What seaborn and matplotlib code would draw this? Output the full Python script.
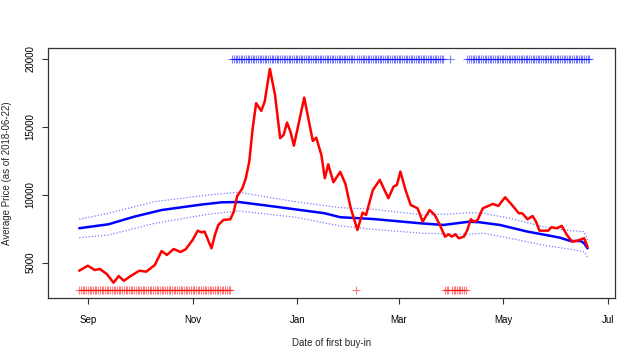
import matplotlib
matplotlib.use("Agg")
import matplotlib.pyplot as plt
import seaborn as sns
import pandas as pd

# ------------------------------------------------------------------
# data
# ------------------------------------------------------------------

# smoothed average price per first buy-in date (red line)
price_dates = [
    "2017-08-27", "2017-09-01", "2017-09-05", "2017-09-08", "2017-09-12", "2017-09-16",
    "2017-09-19", "2017-09-22", "2017-09-26", "2017-10-01", "2017-10-05", "2017-10-10",
    "2017-10-14", "2017-10-17", "2017-10-21", "2017-10-25", "2017-10-28", "2017-11-01",
    "2017-11-04", "2017-11-06", "2017-11-08", "2017-11-12", "2017-11-14", "2017-11-16",
    "2017-11-19", "2017-11-23", "2017-11-25", "2017-11-27", "2017-11-30", "2017-12-02",
    "2017-12-04", "2017-12-06", "2017-12-08", "2017-12-11", "2017-12-13", "2017-12-16",
    "2017-12-19", "2017-12-22", "2017-12-24", "2017-12-26", "2017-12-28", "2017-12-30",
    "2018-01-02", "2018-01-05", "2018-01-07", "2018-01-10", "2018-01-12", "2018-01-15",
    "2018-01-17", "2018-01-19", "2018-01-22", "2018-01-26", "2018-01-29", "2018-02-01",
    "2018-02-05", "2018-02-08", "2018-02-10", "2018-02-14", "2018-02-18", "2018-02-23",
    "2018-02-26", "2018-02-28", "2018-03-02", "2018-03-05", "2018-03-08", "2018-03-12",
    "2018-03-15", "2018-03-19", "2018-03-22", "2018-03-25", "2018-03-28", "2018-03-30",
    "2018-04-01", "2018-04-03", "2018-04-05", "2018-04-08", "2018-04-10", "2018-04-12",
    "2018-04-14", "2018-04-16", "2018-04-19", "2018-04-25", "2018-04-28", "2018-05-02",
    "2018-05-06", "2018-05-10", "2018-05-12", "2018-05-15", "2018-05-18", "2018-05-20",
    "2018-05-22", "2018-05-27", "2018-05-29", "2018-06-01", "2018-06-04", "2018-06-07",
    "2018-06-10", "2018-06-13", "2018-06-17", "2018-06-19",
]
price_values = [
    4410, 4780, 4460, 4540, 4170, 3530,
    4020, 3670, 4020, 4410, 4340, 4830,
    5860, 5570, 6010, 5790, 5990, 6670,
    7360, 7240, 7290, 6060, 7040, 7780,
    8150, 8200, 8760, 9920, 10480, 11220,
    12440, 14900, 16750, 16180, 16870, 19280,
    17360, 14170, 14410, 15320, 14650, 13620,
    15390, 17160, 15890, 13970, 14210, 12940,
    11220, 12250, 10930, 11690, 10800, 9070,
    7410, 8690, 8520, 10360, 11100, 9750,
    10600, 10730, 11710, 10360, 9250, 9010,
    8020, 8880, 8520, 7780, 6920, 7090,
    6920, 7090, 6800, 6920, 7410, 8200,
    8020, 8150, 9010, 9330, 9180, 9820,
    9250, 8640, 8640, 8200, 8440, 8020,
    7360, 7360, 7610, 7540, 7710, 7040,
    6550, 6620, 6800, 6180,
]

# long-run trend (blue line) and its band (dotted)
trend_dates = [
    "2017-08-27", "2017-09-13", "2017-09-28", "2017-10-14", "2017-11-06", "2017-11-18",
    "2017-11-28", "2017-12-19", "2018-01-17", "2018-01-26", "2018-02-14", "2018-03-14",
    "2018-03-27", "2018-04-11", "2018-04-17", "2018-04-29", "2018-05-15", "2018-05-28",
    "2018-06-03", "2018-06-09", "2018-06-15", "2018-06-17", "2018-06-19",
]
trend_values = [
    7540, 7830, 8390, 8880, 9280, 9450,
    9470, 9130, 8640, 8350, 8220, 7900,
    7780, 8020, 7980, 7780, 7290, 6990,
    6840, 6600, 6600, 6430, 6060,
]

upper_dates = [
    "2017-08-27", "2017-09-13", "2017-10-10", "2017-11-10", "2017-11-28", "2017-12-29",
    "2018-01-26", "2018-02-14", "2018-03-15", "2018-03-31", "2018-04-11", "2018-04-19",
    "2018-05-05", "2018-05-24", "2018-06-09", "2018-06-17", "2018-06-19",
]
upper_values = [
    8200, 8640, 9500, 9990, 10190, 9530,
    9050, 8940, 8520, 8590, 8690, 8640,
    8270, 7650, 7360, 7290, 6670,
]

lower_dates = [
    "2017-08-27", "2017-09-13", "2017-10-10", "2017-11-10", "2017-11-28", "2017-12-31",
    "2018-01-26", "2018-02-14", "2018-03-15", "2018-04-10", "2018-04-19", "2018-05-05",
    "2018-05-24", "2018-06-09", "2018-06-17", "2018-06-19",
]
lower_values = [
    6840, 7040, 7900, 8570, 8810, 8350,
    7710, 7460, 7170, 7090, 7170, 6800,
    6300, 5990, 5810, 5400,
]

# daily rug marks: runs of days (first, last)
above_spans = [
    ("2017-11-24", "2018-02-03"),
    ("2018-02-05", "2018-03-27"),
    ("2018-03-31", "2018-03-31"),
    ("2018-04-10", "2018-06-20"),
]
below_spans = [
    ("2017-08-27", "2017-11-23"),
    ("2018-02-04", "2018-02-04"),
    ("2018-03-28", "2018-03-30"),
    ("2018-04-01", "2018-04-09"),
]
ABOVE_LEVEL = 20000
BELOW_LEVEL = 3000

xtick_dates = ["2017-09-01", "2017-11-01", "2018-01-01", "2018-03-01", "2018-05-01", "2018-07-01"]
xtick_labels = ["Sep", "Nov", "Jan", "Mar", "May", "Jul"]
ytick_values = [5000, 10000, 15000, 20000]


def expand_spans(spans):
    days = []
    for first, last in spans:
        days.extend(pd.date_range(first, last, freq="D"))
    return pd.DatetimeIndex(days)


# ------------------------------------------------------------------
# plot
# ------------------------------------------------------------------
sns.set_style("ticks")
plt.rcParams["font.family"] = ["Liberation Sans", "DejaVu Sans"]

fig = plt.figure(figsize=(6.4, 3.6), dpi=100)
ax = fig.add_axes([0.0755, 0.1722, 0.8855, 0.6958])

above_days = expand_spans(above_spans)
below_days = expand_spans(below_spans)
sns.scatterplot(x=above_days, y=[ABOVE_LEVEL] * len(above_days), ax=ax, marker="+",
                color="blue", s=30, linewidth=0.8, alpha=0.5, zorder=2)
sns.scatterplot(x=below_days, y=[BELOW_LEVEL] * len(below_days), ax=ax, marker="+",
                color="red", s=30, linewidth=0.8, alpha=0.5, zorder=2)

sns.lineplot(x=pd.to_datetime(upper_dates), y=upper_values, ax=ax, color="#7a7aff",
             linewidth=0.9, linestyle=(0, (1, 1.5)), zorder=3)
sns.lineplot(x=pd.to_datetime(lower_dates), y=lower_values, ax=ax, color="#7a7aff",
             linewidth=0.9, linestyle=(0, (1, 1.5)), zorder=3)
sns.lineplot(x=pd.to_datetime(trend_dates), y=trend_values, ax=ax, color="blue",
             linewidth=1.8, zorder=4)
sns.lineplot(x=pd.to_datetime(price_dates), y=price_values, ax=ax, color="red",
             linewidth=1.8, zorder=5)

ax.set_xlim(pd.Timestamp("2017-08-09"), pd.Timestamp("2018-07-05"))
ax.set_ylim(2400, 20850)
ax.set_xticks(pd.to_datetime(xtick_dates))
ax.set_xticklabels(xtick_labels)
ax.set_yticks(ytick_values)
ax.set_yticklabels([str(v) for v in ytick_values], rotation=90, va="center")

for side in ["left", "right", "top", "bottom"]:
    ax.spines[side].set_color("#333333")
    ax.spines[side].set_linewidth(0.9)
ax.tick_params(axis="both", length=4.3, width=0.8, color="#333333", labelsize=7, labelcolor="black")
ax.tick_params(axis="x", pad=8)
ax.tick_params(axis="y", pad=5)

ax.set_xlabel("Date of first buy-in", fontsize=7)
ax.set_ylabel("Average Price (as of 2018-06-22)", fontsize=7)
ax.xaxis.set_label_coords(0.5, -0.16)
ax.yaxis.set_label_coords(-0.064, 0.5)

fig.savefig("out.png", dpi=100)
